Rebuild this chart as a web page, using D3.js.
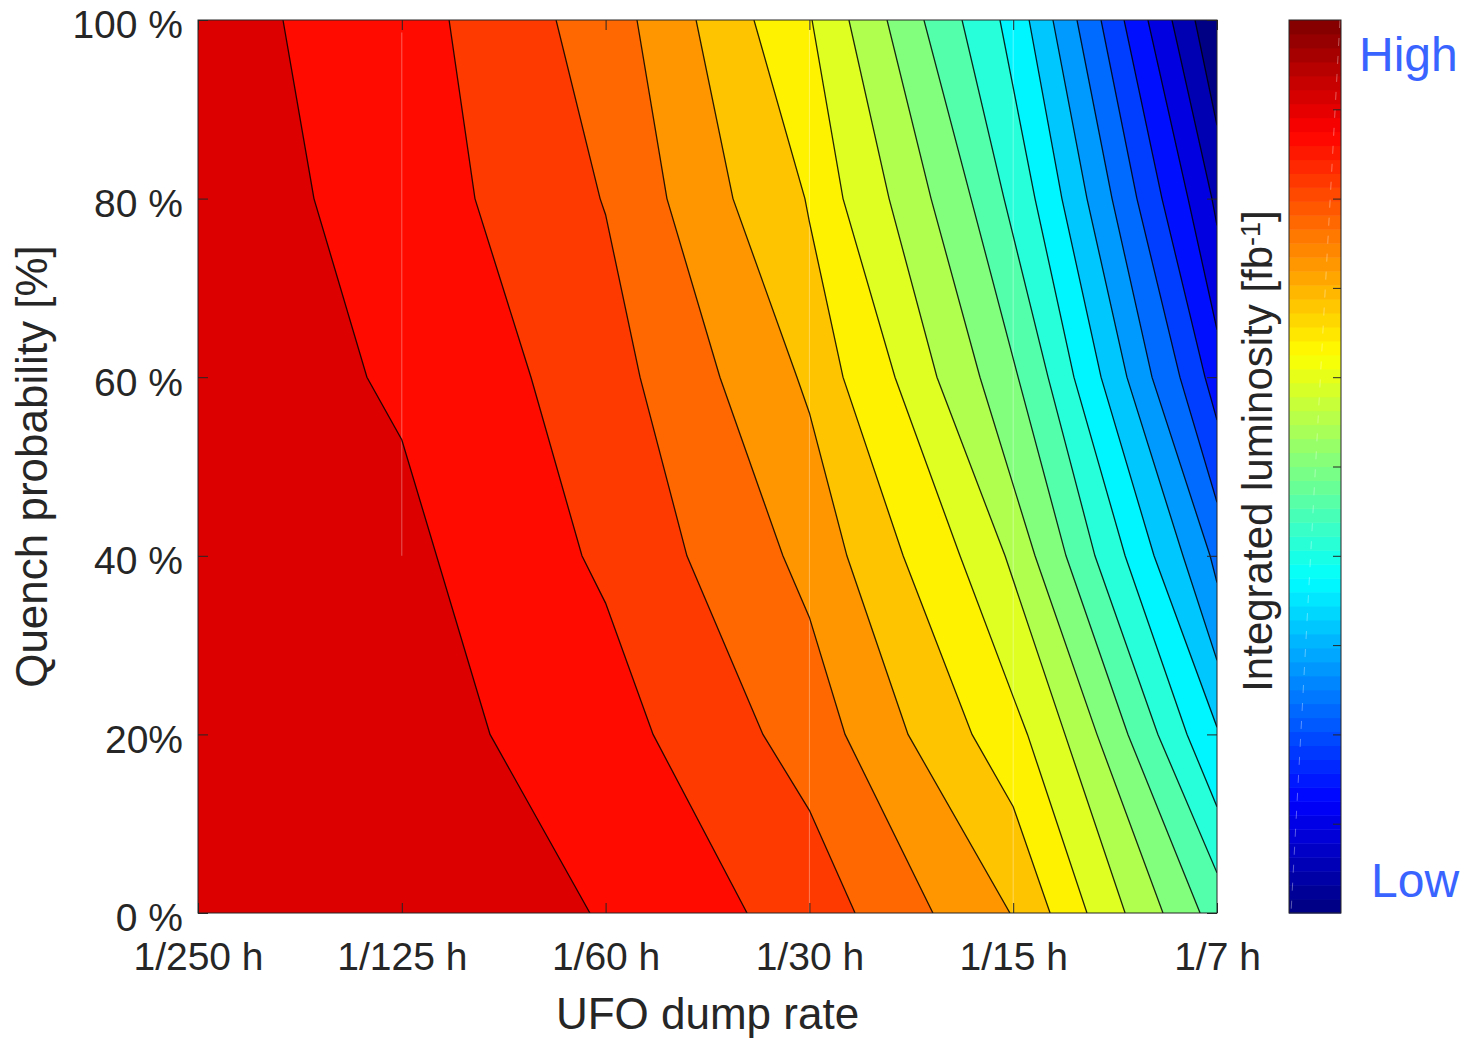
<!DOCTYPE html>
<html>
<head>
<meta charset="utf-8">
<script src="https://cdn.jsdelivr.net/npm/d3@7"></script>
<style>
  body { margin: 0; background: #fff; }
  svg text { font-family: "Liberation Sans", Arial, Helvetica, sans-serif; fill: #262626; }
</style>
</head>
<body>
<svg id="chart" width="1466" height="1038"></svg>
<script>
// x axis categories (rate index 0..5), y ticks
const rateLabels = ["1/250 h", "1/125 h", "1/60 h", "1/30 h", "1/15 h", "1/7 h"];
const quenchTicks = [0, 20, 40, 60, 80, 100];
const quenchLabels = ["0 %", "20%", "40 %", "60 %", "80 %", "100 %"];

// contour boundaries, high luminosity (left) to low (right)
// each point: [rate index, quench probability %]
const lineA = [[0.417, 100], [0.569, 80], [0.829, 60], [1.0, 53.0], [1.433, 20], [1.923, 0]];
const lineB = [[1.232, 100], [1.359, 80], [1.634, 60], [1.884, 40], [2.0, 34.7], [2.233, 20], [2.694, 0]];
const lineC = [[1.757, 100], [1.973, 80], [2.0, 78.2], [2.169, 60], [2.399, 40], [2.772, 20], [3.0, 11.5], [3.224, 0]];
const lineD = [[2.154, 100], [2.301, 80], [2.561, 60], [2.870, 40], [3.0, 33.1], [3.175, 20], [3.606, 0]];
const lineE = [[2.444, 100], [2.625, 80], [2.939, 60], [3.0, 56.0], [3.184, 40], [3.484, 20], [3.984, 0]];
const lineF = [[2.728, 100], [2.978, 80], [3.0, 77.4], [3.165, 60], [3.46, 40], [3.798, 20], [4.0, 11.9], [4.181, 0]];
const lineG = [[3.013, 100], [3.165, 80], [3.420, 60], [3.739, 40], [4.0, 24.2], [4.07, 20], [4.362, 0]];
const lineH = [[3.194, 100], [3.391, 80], [3.626, 60], [3.960, 40], [4.254, 20], [4.549, 0]];
const lineI = [[3.381, 100], [3.597, 80], [3.837, 60], [4.107, 40], [4.411, 20], [4.735, 0]];
const lineJ = [[3.562, 100], [3.793, 80], [4.024, 60], [4.259, 40], [4.563, 20], [4.917, 0]];
const lineK = [[3.749, 100], [3.955, 80], [4.171, 60], [4.401, 40], [4.710, 20], [5.0, 4.5]];
const lineL = [[3.935, 100], [4.107, 80], [4.298, 60], [4.549, 40], [4.853, 20], [5.0, 11.9]];
const lineM = [[4.078, 100], [4.239, 80], [4.431, 60], [4.691, 40], [5.0, 20.8]];
const lineN = [[4.195, 100], [4.362, 80], [4.558, 60], [4.833, 40], [5.0, 28.3]];
const lineO = [[4.313, 100], [4.485, 80], [4.681, 60], [4.966, 40], [5.0, 37.0]];
const lineP = [[4.431, 100], [4.607, 80], [4.818, 60], [5.0, 46.0]];
const lineQ = [[4.544, 100], [4.730, 80], [4.941, 60], [5.0, 55.2]];
const lineR = [[4.661, 100], [4.858, 80], [5.0, 65.3]];
const lineS = [[4.779, 100], [4.975, 80], [5.0, 77.0]];
const lineT = [[4.892, 100], [5.0, 88.2]];

const contourLines = [lineA, lineB, lineC, lineD, lineE, lineF, lineG, lineH, lineI, lineJ,
  lineK, lineL, lineM, lineN, lineO, lineP, lineQ, lineR, lineS, lineT];

// faint patch seams seen in the original render: [rate index, q from, q to]
const seams = [[1, 40, 98.6], [3, 0, 100], [4, 0, 100]];

const svg = d3.select("#chart");
const m = { left: 198, right: 1217, top: 20, bottom: 913 };
const x = d3.scaleLinear().domain([0, 5]).range([m.left, m.right]);
const y = d3.scaleLinear().domain([0, 100]).range([m.bottom, m.top]);

function jet(t) {
  const c = v => Math.round(255 * Math.max(0, Math.min(1, 1.5 - Math.abs(v))));
  return d3.rgb(c(4 * t - 3), c(4 * t - 2), c(4 * t - 1)).formatHex();
}
const bandT = d3.scaleLinear().domain([0, contourLines.length]).range([0.909, 0.005]);

svg.append("clipPath").attr("id", "plotclip")
  .append("rect")
  .attr("x", m.left).attr("y", m.top)
  .attr("width", m.right - m.left).attr("height", m.bottom - m.top);

const plot = svg.append("g").attr("clip-path", "url(#plotclip)");

plot.append("rect")
  .attr("x", m.left).attr("y", m.top)
  .attr("width", m.right - m.left).attr("height", m.bottom - m.top)
  .attr("fill", jet(bandT(0)));

const line = d3.line().x(d => x(d[0])).y(d => y(d[1]));

// fill everything right of each boundary with the next band colour
contourLines.forEach(function (pts, i) {
  const last = pts[pts.length - 1];
  const poly = last[1] > 0 ? pts.concat([[5, 100]]) : pts.concat([[5, 0], [5, 100]]);
  plot.append("path")
    .attr("d", line(poly) + "Z")
    .attr("fill", jet(bandT(i + 1)));
});

plot.selectAll(".seam")
  .data(seams)
  .enter()
  .append("line")
  .attr("class", "seam")
  .attr("x1", d => x(d[0])).attr("x2", d => x(d[0]))
  .attr("y1", d => y(d[1])).attr("y2", d => y(d[2]))
  .attr("stroke", "#fff")
  .attr("stroke-opacity", 0.35)
  .attr("stroke-width", 1);

plot.selectAll(".cline")
  .data(contourLines)
  .enter()
  .append("path")
  .attr("class", "cline")
  .attr("d", line)
  .attr("fill", "none")
  .attr("stroke", "#000")
  .attr("stroke-opacity", 0.85)
  .attr("stroke-width", 1.3);

// axes, MATLAB style: ticks pointing in on all four sides
function styleAxis(g) {
  g.select(".domain").remove();
  g.selectAll(".tick line").attr("stroke", "#262626");
  g.attr("font-family", null).attr("font-size", null);
  g.selectAll("text").style("font-size", "39px").attr("fill", "#262626");
}

svg.append("g")
  .attr("transform", "translate(0," + m.bottom + ")")
  .call(d3.axisBottom(x).tickValues(d3.range(6)).tickFormat(i => rateLabels[i])
    .tickSizeInner(-10).tickSizeOuter(0).tickPadding(29))
  .call(styleAxis);

svg.append("g")
  .attr("transform", "translate(" + m.left + ",0)")
  .call(d3.axisLeft(y).tickValues(quenchTicks).tickFormat((d, i) => quenchLabels[i])
    .tickSizeInner(-10).tickSizeOuter(0).tickPadding(15))
  .call(styleAxis)
  .selectAll("text").attr("dy", "0.46em");

svg.append("g")
  .attr("transform", "translate(0," + m.top + ")")
  .call(d3.axisTop(x).tickValues(d3.range(6)).tickFormat("").tickSizeInner(-10).tickSizeOuter(0))
  .call(styleAxis);

svg.append("g")
  .attr("transform", "translate(" + m.right + ",0)")
  .call(d3.axisRight(y).tickValues(quenchTicks).tickFormat("").tickSizeInner(-10).tickSizeOuter(0))
  .call(styleAxis);

svg.append("rect")
  .attr("x", m.left).attr("y", m.top)
  .attr("width", m.right - m.left).attr("height", m.bottom - m.top)
  .attr("fill", "none")
  .attr("stroke", "#262626")
  .attr("stroke-width", 1);

svg.append("text")
  .attr("x", (m.left + m.right) / 2).attr("y", 1029)
  .attr("text-anchor", "middle")
  .style("font-size", "44px")
  .text("UFO dump rate");

svg.append("text")
  .attr("transform", "translate(47," + (m.top + m.bottom) / 2 + ")rotate(-90)")
  .attr("text-anchor", "middle")
  .style("font-size", "44px")
  .text("Quench probability [%]");

// colorbar
const cb = { left: 1289, right: 1341 };
const yc = d3.scaleLinear().domain([0, 1]).range([m.bottom, m.top]);
const nColors = 64;

svg.append("g")
  .selectAll("rect")
  .data(d3.range(nColors))
  .enter()
  .append("rect")
  .attr("x", cb.left)
  .attr("y", d => yc((d + 1) / nColors))
  .attr("width", cb.right - cb.left)
  .attr("height", d => yc(d / nColors) - yc((d + 1) / nColors) + 0.5)
  .attr("fill", d => jet((d + 0.5) / nColors));

svg.append("line")
  .attr("x1", cb.right - 1).attr("y1", m.top)
  .attr("x2", cb.left + 2).attr("y2", m.bottom)
  .attr("stroke", "#fff")
  .attr("stroke-opacity", 0.35)
  .attr("stroke-dasharray", "8,10");

svg.append("g")
  .attr("transform", "translate(" + cb.right + ",0)")
  .call(d3.axisLeft(yc).tickValues(d3.range(1, 10).map(d => d / 10)).tickFormat("")
    .tickSizeInner(8).tickSizeOuter(0))
  .call(styleAxis);

svg.append("rect")
  .attr("x", cb.left).attr("y", m.top)
  .attr("width", cb.right - cb.left).attr("height", m.bottom - m.top)
  .attr("fill", "none")
  .attr("stroke", "#262626")
  .attr("stroke-width", 1);

const cbLabel = svg.append("text")
  .attr("transform", "translate(1272," + 451 + ")rotate(-90)")
  .attr("text-anchor", "middle")
  .style("font-size", "42px");
cbLabel.append("tspan").text("Integrated luminosity [fb");
cbLabel.append("tspan").attr("dy", "-0.45em").style("font-size", "27px").text("-1");
cbLabel.append("tspan").attr("dy", "0.3em").text("]");

svg.append("text")
  .attr("x", 1359).attr("y", 71)
  .style("font-size", "48px")
  .style("fill", "#3a64ff")
  .text("High");

svg.append("text")
  .attr("x", 1371).attr("y", 897)
  .style("font-size", "48px")
  .style("fill", "#3a64ff")
  .text("Low");
</script>
</body>
</html>
